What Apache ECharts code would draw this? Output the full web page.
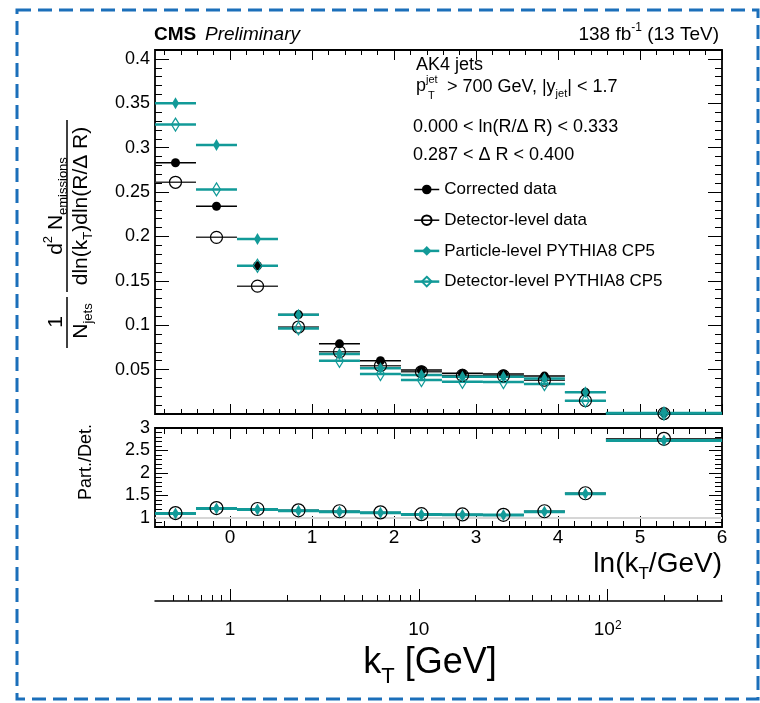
<!DOCTYPE html>
<html><head><meta charset="utf-8">
<script src="https://cdn.jsdelivr.net/npm/echarts@6/dist/echarts.min.js"></script>
<style>html,body{margin:0;padding:0;background:#fff}#c{width:760px;height:703px}</style>
</head><body><div id="c"></div>
<script>
// ---------------- data ----------------
const binEdges = [-0.916, -0.416, 0.084, 0.584, 1.084, 1.584, 2.084, 2.584, 3.084, 3.584, 4.084, 4.584, 6.0];
const correctedData  = [0.283, 0.234, 0.167, 0.112, 0.079, 0.060, 0.0495, 0.0458, 0.045, 0.0427, 0.0244, 0.0012];
const detectorData   = [0.261, 0.199, 0.144, 0.098, 0.070, 0.0544, 0.0476, 0.0435, 0.043, 0.038, 0.015, 0.0005];
const particlePythia = [0.350, 0.303, 0.197, 0.1117, 0.0675, 0.0514, 0.0439, 0.042, 0.042, 0.040, 0.0244, 0.0012];
const detectorPythia = [0.326, 0.253, 0.167, 0.0964, 0.060, 0.045, 0.0382, 0.0363, 0.036, 0.0337, 0.015, 0.0005];
const ratioData   = [1.11, 1.22, 1.20, 1.17, 1.15, 1.125, 1.085, 1.08, 1.07, 1.15, 1.55, 2.76];
const ratioPythia = [1.10, 1.21, 1.19, 1.16, 1.14, 1.115, 1.08, 1.075, 1.065, 1.14, 1.54, 2.72];
const lnKtLabels = [0, 1, 2, 3, 4, 5, 6];
const topYLabels = [0.05, 0.1, 0.15, 0.2, 0.25, 0.3, 0.35, 0.4];
const ratioYLabels = [1, 1.5, 2, 2.5, 3];
const ktLabels = [1, 10, 100];
const ktMinorTicks = [0.4,0.5,0.6,0.7,0.8,0.9,2,3,4,5,6,7,8,9,20,30,40,50,60,70,80,90,200,300,400];

// ---------------- helpers ----------------
const FONT = 'Liberation Sans';
const TEAL = '#129a98';
const XMIN = binEdges[0], XMAX = binEdges[binEdges.length - 1];
const TOPYMAX = 0.41, RMIN = 0.8, RMAX = 3.0;
function steps(a, b, d) { const r = []; for (let i = 0; a + i * d <= b + 1e-9; i++) r.push(+(a + i * d).toFixed(4)); return r; }
const lnMinor = steps(-0.8, 5.8, 0.2).filter(v => Math.abs(v - Math.round(v)) > 1e-6);
const topYMajor = [0].concat(topYLabels);
const topYMinor = steps(0.01, 0.41, 0.01).filter(v => Math.abs(v * 20 - Math.round(v * 20)) > 1e-6);
const ratioMinor = steps(0.8, 3.0, 0.1).filter(v => Math.abs(v * 2 - Math.round(v * 2)) > 1e-6);

function tickAxis(gi, pos, min, max, tickVals, len, labelCfg) {
  return {
    type: 'value', gridIndex: gi, position: pos, min: min, max: max,
    axisLine: { show: false, onZero: false }, splitLine: { show: false },
    axisTick: { show: true, inside: true, length: len, customValues: tickVals, lineStyle: { color: '#000', width: 1 } },
    axisLabel: labelCfg ? Object.assign({ show: true, color: '#000', fontFamily: FONT, fontSize: 18 }, labelCfg) : { show: false },
    axisPointer: { show: false }, silent: true
  };
}
function bars(name, vals, color, width, xi, yi, z) {
  return {
    type: 'custom', name: name, xAxisIndex: xi, yAxisIndex: yi, z: z, silent: true, clip: false,
    data: vals.map((v, i) => [binEdges[i], binEdges[i + 1], v]),
    encode: { x: [0, 1], y: 2 },
    renderItem: function (p, api) {
      const a = api.coord([api.value(0), api.value(2)]);
      const b = api.coord([api.value(1), api.value(2)]);
      return { type: 'line', shape: { x1: a[0], y1: a[1], x2: b[0], y2: b[1] }, style: { stroke: color, lineWidth: width } };
    }
  };
}
function markers(name, vals, symbol, size, itemStyle, xi, yi, z, extra) {
  return Object.assign({
    type: 'line', name: name, xAxisIndex: xi, yAxisIndex: yi, z: z, silent: true,
    data: vals.map((v, i) => [(binEdges[i] + binEdges[i + 1]) / 2, v]),
    symbol: symbol, symbolSize: size, showSymbol: true, itemStyle: itemStyle,
    lineStyle: { opacity: 0 }, emphasis: { disabled: true }
  }, extra || {});
}
function richFor(size) {
  const s = Math.round(size * 0.62);
  return {
    sup: { fontSize: s, fontFamily: FONT, verticalAlign: 'top', lineHeight: s, fill: '#000' },
    sub: { fontSize: s, fontFamily: FONT, verticalAlign: 'bottom', lineHeight: s, fill: '#000' }
  };
}
function txt(x, y, text, size, style, node) {
  return Object.assign({
    type: 'text', x: x, y: y, silent: true, z: 100,
    style: Object.assign({ text: text, fontFamily: FONT, fontSize: size, fill: '#000', textAlign: 'left',
      textVerticalAlign: 'middle', lineHeight: Math.round(size * 1.35), rich: richFor(size) }, style || {})
  }, node || {});
}
const HOLLOW = 'rgba(0,0,0,0)';

const option = {
  animation: false,
  backgroundColor: '#fff',
  grid: [
    { left: 155, top: 50, width: 567, height: 364, show: true, borderColor: '#000', borderWidth: 1.8, backgroundColor: 'transparent' },
    { left: 155, top: 428, width: 567, height: 99, show: true, borderColor: '#000', borderWidth: 1.8, backgroundColor: 'transparent' },
    { left: 155, top: 560, width: 567, height: 41, show: false }
  ],
  xAxis: [
    tickAxis(0, 'bottom', XMIN, XMAX, lnKtLabels, 10),
    tickAxis(0, 'bottom', XMIN, XMAX, lnMinor, 5),
    tickAxis(0, 'top', XMIN, XMAX, lnKtLabels, 10),
    tickAxis(0, 'top', XMIN, XMAX, lnMinor, 5),
    tickAxis(1, 'bottom', XMIN, XMAX, lnKtLabels, 11, { customValues: lnKtLabels, margin: 1, fontSize: 19 }),
    tickAxis(1, 'bottom', XMIN, XMAX, lnMinor, 6),
    tickAxis(1, 'top', XMIN, XMAX, lnKtLabels, 11),
    tickAxis(1, 'top', XMIN, XMAX, lnMinor, 6),
    Object.assign(tickAxis(2, 'bottom', XMIN, XMAX, ktLabels.map(Math.log), 12, {
      customValues: ktLabels.map(Math.log), margin: 19, fontSize: 19,
      formatter: function (v) { const k = Math.round(Math.exp(v)); return k === 100 ? '{n|10}{s|2}' : '{n|' + k + '}'; },
      rich: { n: { fontSize: 19, fontFamily: FONT, color: '#000' }, s: { fontSize: 12, fontFamily: FONT, color: '#000', verticalAlign: 'top', lineHeight: 12 } }
    }), { axisLine: { show: true, onZero: false, lineStyle: { color: '#000', width: 1.5 } } }),
    tickAxis(2, 'bottom', XMIN, XMAX, ktMinorTicks.map(Math.log), 6)
  ],
  yAxis: [
    tickAxis(0, 'left', 0, TOPYMAX, topYMajor, 14, { customValues: topYLabels, margin: 5, formatter: v => String(+(+v).toFixed(2)) }),
    tickAxis(0, 'left', 0, TOPYMAX, topYMinor, 7),
    tickAxis(0, 'right', 0, TOPYMAX, topYMajor, 14),
    tickAxis(0, 'right', 0, TOPYMAX, topYMinor, 7),
    tickAxis(1, 'left', RMIN, RMAX, ratioYLabels, 13, { customValues: ratioYLabels, margin: 5 }),
    tickAxis(1, 'left', RMIN, RMAX, ratioMinor, 7),
    tickAxis(1, 'right', RMIN, RMAX, ratioYLabels, 13),
    tickAxis(1, 'right', RMIN, RMAX, ratioMinor, 7),
    { type: 'value', gridIndex: 2, show: false, min: 0, max: 1, axisLine: { onZero: false } }
  ],
  legend: {
    orient: 'vertical', left: 408, top: 176, itemWidth: 25, itemHeight: 12, itemGap: 13.7,
    selectedMode: false,
    textStyle: { fontFamily: FONT, fontSize: 17, color: '#000', lineHeight: 16 },
    data: [
      { name: 'Corrected data', lineStyle: { color: '#000', width: 1.5, opacity: 1 } },
      { name: 'Detector-level data', lineStyle: { color: '#000', width: 1.5, opacity: 1 } },
      { name: 'Particle-level PYTHIA8 CP5', lineStyle: { color: TEAL, width: 2.5, opacity: 1 } },
      { name: 'Detector-level PYTHIA8 CP5', lineStyle: { color: TEAL, width: 2.5, opacity: 1 } }
    ]
  },
  series: [
    bars('detData bins', detectorData, '#333', 1.5, 0, 0, 2),
    bars('corr bins', correctedData, '#000', 1.5, 0, 0, 2),
    bars('detPY bins', detectorPythia, TEAL, 2.5, 0, 0, 3),
    bars('PL bins', particlePythia, TEAL, 2.5, 0, 0, 3),
    markers('Detector-level data', detectorData, 'circle', 12, { color: HOLLOW, borderColor: '#000', borderWidth: 1.2 }, 0, 0, 4),
    markers('Corrected data', correctedData, 'circle', 9, { color: '#000' }, 0, 0, 5),
    markers('Detector-level PYTHIA8 CP5', detectorPythia, 'diamond', [8, 13], { color: HOLLOW, borderColor: TEAL, borderWidth: 1.3 }, 0, 0, 6),
    markers('Particle-level PYTHIA8 CP5', particlePythia, 'diamond', [7, 12], { color: TEAL }, 0, 0, 7),

    bars('ratio data bins', ratioData, '#333', 1.5, 4, 4, 2),
    bars('ratio PY bins', ratioPythia, TEAL, 3, 4, 4, 3),
    markers('ratio data', ratioData, 'circle', 13, { color: HOLLOW, borderColor: '#000', borderWidth: 1.2 }, 4, 4, 5, {
      markLine: { silent: true, z: 1, symbol: 'none', label: { show: false }, lineStyle: { color: '#d6d6d6', width: 2, type: 'solid' }, data: [{ yAxis: 1 }] }
    }),
    markers('ratio PY', ratioPythia, 'diamond', [7, 12], { color: TEAL }, 4, 4, 6)
  ],
  graphic: [
    { type: 'rect', silent: true, z: 100, shape: { x: 17, y: 10, width: 741, height: 689 }, style: { fill: 'none', stroke: '#1b6fba', lineWidth: 3, lineDash: [14, 7] } },
    txt(154, 35, 'CMS', 19, { fontWeight: 'bold' }),
    txt(205, 35, 'Preliminary', 19, { fontStyle: 'italic' }),
    txt(719, 35, '138 fb{sup|-1} (13 TeV)', 19, { textAlign: 'right' }),
    txt(416, 65, 'AK4 jets', 18),
    txt(416, 86, 'p{sup|jet}', 18),
    txt(428, 96, 'T', 11),
    txt(447, 87, '> 700 GeV, |y{sub|jet}| < 1.7', 18),
    txt(413, 127, '0.000 < ln(R/\u0394 R) < 0.333', 18),
    txt(413, 155, '0.287 < \u0394 R < 0.400', 18),
    // y title of top panel (rotated)
    txt(56, 206, 'd{sup|2} N{sub|emissions}', 21, { textAlign: 'center' }, { rotation: Math.PI / 2 }),
    { type: 'line', silent: true, z: 100, shape: { x1: 67, y1: 120, x2: 67, y2: 292 }, style: { stroke: '#000', lineWidth: 1.5 } },
    txt(81, 206, 'dln(k{sub|T})dln(R/\u0394 R)', 21, { textAlign: 'center' }, { rotation: Math.PI / 2 }),
    txt(56, 322, '1', 21, { textAlign: 'center' }, { rotation: Math.PI / 2 }),
    { type: 'line', silent: true, z: 100, shape: { x1: 67, y1: 297, x2: 67, y2: 348 }, style: { stroke: '#000', lineWidth: 1.5 } },
    txt(81, 321, 'N{sub|jets}', 21, { textAlign: 'center' }, { rotation: Math.PI / 2 }),
    // ratio y title
    txt(86, 462, 'Part./Det.', 18, { textAlign: 'center' }, { rotation: Math.PI / 2 }),
    // x titles
    txt(722, 564, 'ln(k{sub|T}/GeV)', 28, { textAlign: 'right' }),
    txt(430, 663, 'k{sub|T} [GeV]', 36, { textAlign: 'center' })
  ]
};
const chart = echarts.init(document.getElementById('c'), null, { renderer: 'canvas', width: 760, height: 703 });
chart.setOption(option);
</script>
</body></html>
